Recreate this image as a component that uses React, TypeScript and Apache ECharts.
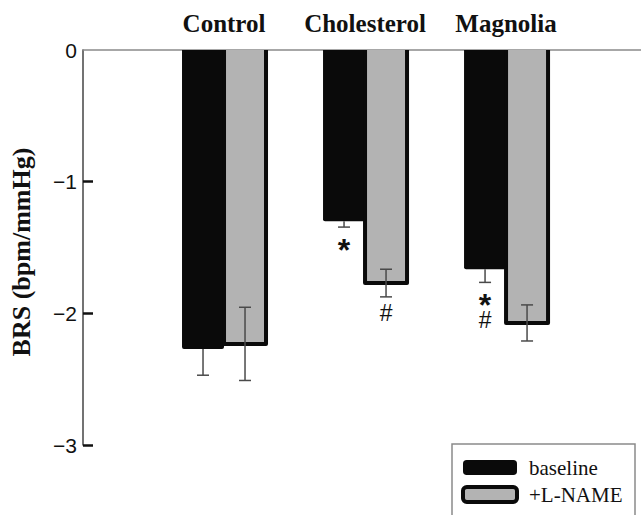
import React, { useEffect, useRef } from "react";
import * as echarts from "echarts";

const categories = ["Control", "Cholesterol", "Magnolia"];
const baseline = [-2.27, -1.3, -1.665];
const baselineErr = [0.2, 0.045, 0.1];
const lname = [-2.232, -1.77, -2.073];
const lnameErr = [0.278, 0.105, 0.137];
const yTicks = [0, -1, -2, -3];
const markerText = ["*", "#", "*\n#"];
const markerCategory = [2, 2, 3];
const markerSide = [-1, 1, -1];
const markerValue = [-1.52, -2.0, -1.992];

const BAR_W = 42;
const SERIF = "'Liberation Serif', 'Times New Roman', serif";
const SANS = "'Liberation Sans', Arial, sans-serif";

export default function App() {
  const ref = useRef<HTMLDivElement>(null);
  useEffect(() => {
    if (!ref.current) return;
    const chart = echarts.init(ref.current, undefined, { renderer: "svg" });
    const xs = categories.map((_, i) => i + 1);
    const errData: number[][] = [];
    xs.forEach((x, i) => {
      errData.push([x, baseline[i], baselineErr[i], -1, 0]);
      errData.push([x, lname[i], lnameErr[i], 1, 1]);
    });
    const markerData = markerText.map((t, i) => [markerCategory[i], markerValue[i], markerSide[i], i]);

    chart.setOption({
      animation: false,
      grid: { left: 83, right: 0, top: 50, bottom: 70, containLabel: false },
      xAxis: {
        type: "value",
        position: "top",
        min: 0,
        max: 3.957,
        interval: 1,
        axisLine: { show: true, onZero: false, lineStyle: { color: "#8a8a8a", width: 1.5 } },
        axisTick: { show: false },
        splitLine: { show: false },
        axisLabel: {
          show: true,
          margin: 14,
          showMinLabel: false,
          showMaxLabel: false,
          fontFamily: SERIF,
          fontWeight: "bold",
          fontSize: 25,
          color: "#111",
          formatter: (v: number) => (Number.isInteger(v) && categories[v - 1]) ? categories[v - 1] : "",
        },
      },
      yAxis: {
        type: "value",
        min: -3,
        max: 0,
        interval: 1,
        name: "BRS (bpm/mmHg)",
        nameLocation: "middle",
        nameRotate: 90,
        nameGap: 49,
        nameTextStyle: {
          fontFamily: SERIF,
          fontWeight: "bold",
          fontSize: 26,
          color: "#111",
          padding: [0, 9, 0, 0],
        },
        axisLine: { show: true, onZero: false, lineStyle: { color: "#444", width: 1.5 } },
        axisTick: {
          show: true,
          inside: true,
          length: 10,
          customValues: yTicks.filter((v) => v !== 0),
          lineStyle: { color: "#111", width: 2.5 },
        },
        splitLine: { show: false },
        axisLabel: {
          margin: 6,
          fontFamily: SANS,
          fontSize: 21,
          color: "#111",
          customValues: yTicks,
          formatter: (v: number) => (v === 0 ? "0" : "\u2212" + Math.abs(v)),
        },
      },
      legend: {
        orient: "vertical",
        left: 461,
        top: 457,
        padding: 0,
        itemGap: 6,
        itemWidth: 54,
        itemHeight: 15,
        textStyle: { fontFamily: SERIF, fontSize: 21, color: "#111", lineHeight: 21, padding: [0, 0, 0, 7] },
        data: [
          { name: "baseline", icon: "roundRect", itemStyle: { color: "#0a0a0a", borderColor: "#0a0a0a", borderWidth: 0 } },
          { name: "+L-NAME", icon: "roundRect", itemStyle: { color: "#b3b3b3", borderColor: "#0a0a0a", borderWidth: 4 } },
        ],
      },
      graphic: [
        {
          type: "rect",
          shape: { x: 452, y: 444, width: 183, height: 90 },
          style: { fill: "none", stroke: "#8a8a8a", lineWidth: 1.5 },
          z: 10,
        },
      ],
      series: [
        {
          name: "baseline",
          type: "bar",
          barWidth: BAR_W,
          barGap: "0%",
          data: xs.map((x, i) => [x, baseline[i]]),
          itemStyle: { color: "#0a0a0a", borderRadius: [0, 0, 2, 2] },
          z: 2,
        },
        {
          name: "+L-NAME",
          type: "bar",
          barWidth: BAR_W,
          barGap: "0%",
          data: xs.map((x, i) => [x, lname[i]]),
          itemStyle: { color: "#b3b3b3", borderWidth: 0 },
          z: 3,
        },
        {
          type: "custom",
          name: "outline",
          z: 4,
          data: xs.map((x, i) => [x, lname[i]]),
          encode: { x: 0, y: 1 },
          renderItem: (params: any, api: any) => {
            const p0 = api.coord([api.value(0), 0]);
            const pb = api.coord([api.value(0), api.value(1)]);
            const l = p0[0];
            const r = p0[0] + BAR_W;
            return {
              type: "polyline",
              shape: { points: [[l, p0[1]], [l, pb[1]], [r, pb[1]], [r, p0[1]]] },
              style: { fill: "none", stroke: "#0a0a0a", lineWidth: 4, lineJoin: "round", lineCap: "butt" },
            };
          },
        },
        {
          type: "custom",
          name: "err",
          z: 5,
          data: errData,
          encode: { x: 0, y: 1 },
          renderItem: (params: any, api: any) => {
            const x = api.value(0);
            const m = api.value(1);
            const e = api.value(2);
            const side = api.value(3);
            const upper = api.value(4);
            const off = (side * BAR_W) / 2;
            const pm = api.coord([x, m]);
            const pl = api.coord([x, m - e]);
            const pu = api.coord([x, upper ? m + e : m]);
            const cx = pm[0] + off;
            const style = { stroke: "#4a4a4a", lineWidth: 1.5 };
            const children: any[] = [
              { type: "line", shape: { x1: cx, y1: pu[1], x2: cx, y2: pl[1] }, style },
              { type: "line", shape: { x1: cx - 6, y1: pl[1], x2: cx + 6, y2: pl[1] }, style },
            ];
            if (upper) {
              children.push({ type: "line", shape: { x1: cx - 6, y1: pu[1], x2: cx + 6, y2: pu[1] }, style });
            }
            return { type: "group", children };
          },
        },
        {
          type: "custom",
          name: "markers",
          z: 6,
          data: markerData,
          encode: { x: 0, y: 1 },
          renderItem: (params: any, api: any) => {
            const p = api.coord([api.value(0), api.value(1)]);
            const side = api.value(2);
            const idx = api.value(3);
            const t = markerText[idx];
            const rich = t
              .split("\n")
              .map((c) => (c === "*" ? "{s|*}" : "{h|#}"))
              .join("\n");
            return {
              type: "text",
              x: p[0] + (side * BAR_W) / 2,
              y: p[1],
              style: {
                text: rich,
                fill: "#111",
                align: "center",
                verticalAlign: "middle",
                rich: {
                  s: { fontFamily: SANS, fontWeight: "bold", fontSize: 32, lineHeight: 15, fill: "#111" },
                  h: { fontFamily: SANS, fontSize: 23, lineHeight: 15, fill: "#111" },
                },
              },
            };
          },
        },
      ],
    });
    return () => chart.dispose();
  }, []);
  return <div ref={ref} style={{ position: "absolute", left: 0, top: 0, width: 641, height: 515 }} />;
}
